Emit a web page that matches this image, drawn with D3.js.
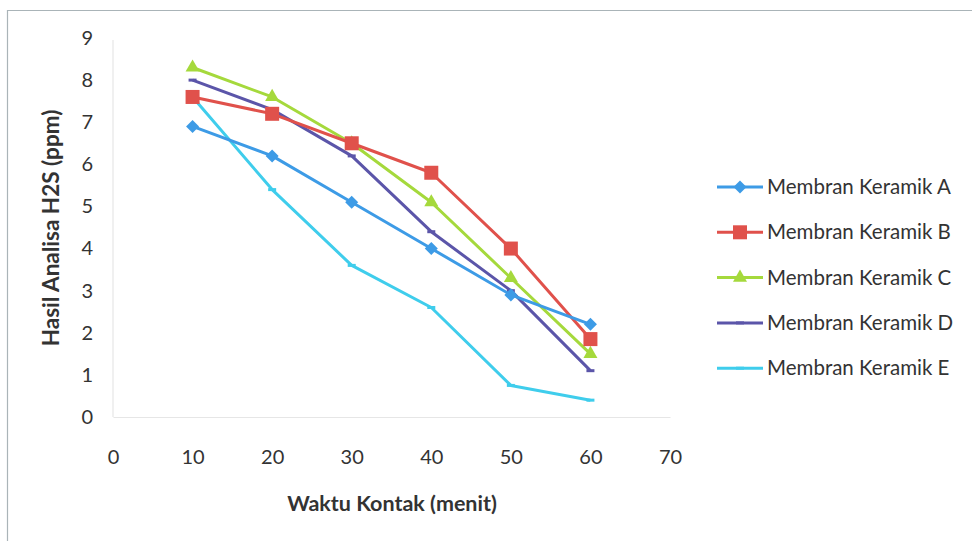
<!DOCTYPE html>
<html>
<head>
<meta charset="utf-8">
<script src="https://cdn.jsdelivr.net/npm/d3@7"></script>
<style>
  html, body { margin: 0; padding: 0; background: #fff; }
  svg { display: block; }
  text { font-family: Lato, "Open Sans", sans-serif; fill: #333; }
</style>
</head>
<body>
<svg id="chart" width="972" height="541"></svg>
<script>
// Contact time (minutes)
const waktu = [10, 20, 30, 40, 50, 60];
const xTicks = [0, 10, 20, 30, 40, 50, 60, 70];
const yTicks = [0, 1, 2, 3, 4, 5, 6, 7, 8, 9];

// H2S results (ppm) per ceramic membrane
const seriesNames = ["Membran Keramik A", "Membran Keramik B", "Membran Keramik C", "Membran Keramik D", "Membran Keramik E"];
const keramikA = [6.9, 6.2, 5.1, 4.0, 2.9, 2.2];
const keramikB = [7.6, 7.2, 6.5, 5.8, 4.0, 1.85];
const keramikC = [8.3, 7.6, 6.5, 5.1, 3.3, 1.5];
const keramikD = [8.0, 7.3, 6.2, 4.4, 3.0, 1.1];
const keramikE = [7.6, 5.4, 3.6, 2.6, 0.75, 0.4];
const seriesColors = ["#3d9be6", "#e0514b", "#a5d93c", "#5b55a9", "#3fcdec"];
const seriesMarkers = ["diamond", "square", "triangle", "dash", "dash"];

const allValues = [keramikA, keramikB, keramikC, keramikD, keramikE];
const series = seriesNames.map((name, i) => ({
  name, color: seriesColors[i], marker: seriesMarkers[i],
  points: waktu.map((t, j) => ({ t, v: allValues[i][j] }))
}));

const svg = d3.select("#chart");

// outer frame
svg.append("path")
  .attr("d", "M7.5,560 V10.5 H990")
  .attr("fill", "none").attr("stroke", "#aab4b8").attr("stroke-width", 1.2);

const x = d3.scaleLinear().domain([0, 70]).range([113, 670]);
const y = d3.scaleLinear().domain([0, 9]).range([417, 38]);

// axes
const xAxis = svg.append("g").attr("transform", `translate(0,${y(0)})`)
  .call(d3.axisBottom(x).tickValues(xTicks).tickSize(0).tickPadding(33));
const yAxis = svg.append("g").attr("transform", `translate(${x(0)},0)`)
  .call(d3.axisLeft(y).tickValues(yTicks).tickSize(0).tickPadding(20));
[xAxis, yAxis].forEach(g => {
  g.select(".domain").attr("stroke", "#e6e6e6").attr("stroke-width", 1.2);
  g.selectAll("text").style("font-family", "Lato, 'Open Sans', sans-serif")
    .style("font-size", "20px").attr("fill", "#3a3a3a");
});
yAxis.select(".domain").attr("d", `M0,${y(9) + 2}V${y(0)}`);

// axis titles
svg.append("text")
  .attr("x", 392).attr("y", 511)
  .attr("text-anchor", "middle")
  .style("font-size", "21.5px").style("font-weight", "bold")
  .text("Waktu Kontak (menit)");
svg.append("text")
  .attr("transform", "translate(59,228) rotate(-90)")
  .attr("text-anchor", "middle")
  .style("font-size", "22.5px").style("font-weight", "bold")
  .text("Hasil Analisa H2S (ppm)");

const line = d3.line().x(d => x(d.t)).y(d => y(d.v));

function drawMarker(g, type, color, cx, cy) {
  if (type === "diamond") {
    g.append("rect").attr("x", -4.6).attr("y", -4.6).attr("width", 9.2).attr("height", 9.2)
      .attr("transform", `translate(${cx},${cy}) rotate(45)`).attr("fill", color);
  } else if (type === "square") {
    g.append("rect").attr("x", cx - 7).attr("y", cy - 7).attr("width", 14).attr("height", 14)
      .attr("fill", color);
  } else if (type === "triangle") {
    g.append("path").attr("d", d3.symbol(d3.symbolTriangle, 85)())
      .attr("transform", `translate(${cx},${cy})`).attr("fill", color);
  } else if (type === "dash") {
    g.append("rect").attr("x", cx - 4).attr("y", cy - 1.5).attr("width", 8).attr("height", 3)
      .attr("fill", color);
  }
}

// draw from last to first so series A stays on top
const plot = svg.append("g");
series.slice().reverse().forEach(s => {
  const g = plot.append("g");
  g.append("path").datum(s.points)
    .attr("d", line).attr("fill", "none")
    .attr("stroke", s.color).attr("stroke-width", 3)
    .attr("stroke-linejoin", "round");
  s.points.forEach(p => drawMarker(g, s.marker, s.color, x(p.t), y(p.v)));
});

// legend
const legend = svg.append("g");
series.forEach((s, i) => {
  const ly = 187 + i * 45.3;
  const g = legend.append("g");
  g.append("line").attr("x1", 717).attr("x2", 763).attr("y1", ly).attr("y2", ly)
    .attr("stroke", s.color).attr("stroke-width", 3);
  drawMarker(g, s.marker, s.color, 740, ly);
  g.append("text").attr("x", 767).attr("y", ly).attr("dy", "0.35em")
    .style("font-size", "20.5px").text(s.name);
});
</script>
</body>
</html>
